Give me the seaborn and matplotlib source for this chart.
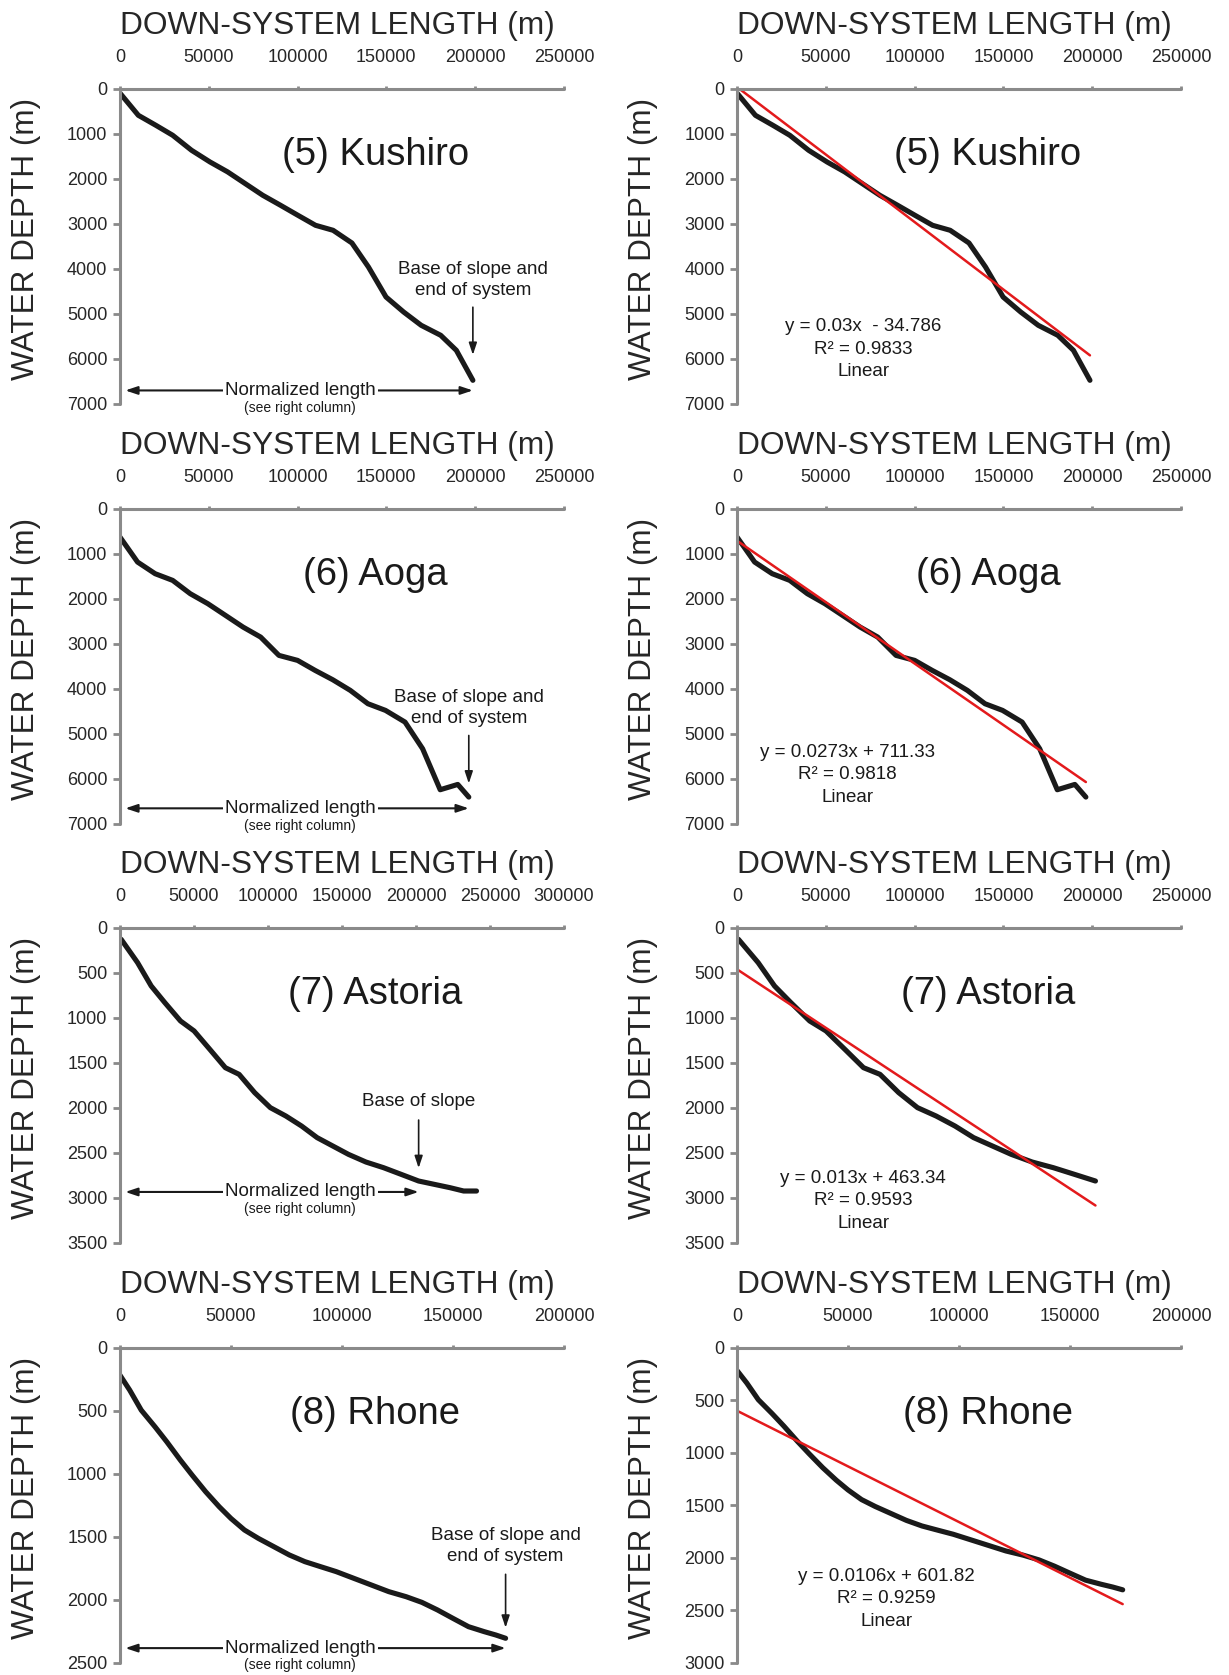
import matplotlib
matplotlib.use('Agg')
import matplotlib.pyplot as plt
import numpy as np
import pandas as pd
import seaborn as sns

sns.set_theme(style='white')
plt.rcParams['font.family'] = ['Liberation Sans', 'DejaVu Sans']

kushiro_x = [0, 10350, 20200, 29700, 40300, 50700, 60600, 70500, 80400, 90300,
             100200, 110100, 120000, 130600, 139900, 149800, 159700, 169600,
             180600, 189400, 198700]
kushiro_y = [100, 593, 815, 1037, 1370, 1630, 1850, 2110, 2370, 2590,
             2815, 3037, 3148, 3430, 3963, 4630, 4963, 5259,
             5481, 5815, 6481]

aoga_x = [0, 9900, 19800, 29700, 39600, 49500, 59400, 69300, 79200, 89500,
          100000, 109900, 119800, 129700, 139600, 149500, 160500, 170400,
          180300, 190200, 196400]
aoga_y = [630, 1185, 1444, 1593, 1889, 2111, 2370, 2630, 2852, 3259,
          3370, 3593, 3800, 4037, 4333, 4481, 4741, 5333,
          6244, 6126, 6407]

astoria_x = [800, 11900, 21100, 30300, 40900, 50100, 60700, 71200, 80500, 91000,
             101600, 112100, 122700, 133200, 143800, 154400, 166200, 178100,
             190000, 201800, 212400, 223000, 232200, 240900]
astoria_y = [130, 389, 648, 833, 1037, 1148, 1352, 1556, 1630, 1833,
             2000, 2093, 2204, 2333, 2426, 2519, 2604, 2667,
             2741, 2815, 2852, 2889, 2926, 2926]

rhone_x = [0, 4400, 9600, 15800, 21100, 27200, 32500, 38600, 44700, 50000,
           56100, 62300, 69300, 76300, 83300, 90400, 97400, 105300, 113200,
           121100, 128900, 136000, 143000, 150000, 157000, 164000, 169300, 173700]
rhone_y = [219, 338, 497, 629, 748, 893, 1012, 1144, 1263, 1356,
           1448, 1514, 1580, 1646, 1699, 1739, 1778, 1831, 1884,
           1937, 1977, 2022, 2082, 2149, 2215, 2254, 2281, 2307]

names = ['(5) Kushiro', '(6) Aoga', '(7) Astoria', '(8) Rhone']
profiles_x = [kushiro_x, aoga_x, astoria_x, rhone_x]
profiles_y = [kushiro_y, aoga_y, astoria_y, rhone_y]

# base of slope (normalized length end), m
base_of_slope = [198700, 196400, 201800, 173700]
base_labels = ['Base of slope and\nend of system', 'Base of slope and\nend of system',
               'Base of slope', 'Base of slope and\nend of system']

# linear fits shown in the right column
fit_slope = [0.03, 0.0273, 0.013, 0.0106]
fit_intercept = [-34.786, 711.33, 463.34, 601.82]
fit_eq = ['y = 0.03x  - 34.786', 'y = 0.0273x + 711.33',
          'y = 0.013x + 463.34', 'y = 0.0106x + 601.82']
fit_r2 = ['R² = 0.9833', 'R² = 0.9818', 'R² = 0.9593', 'R² = 0.9259']

# axis ranges
xmax_left = [250000, 250000, 300000, 200000]
xmax_right = [250000, 250000, 250000, 200000]
ymax_left = [7000, 7000, 3500, 2500]
ymax_right = [7000, 7000, 3500, 3000]
ystep = [1000, 1000, 500, 500]

# layout (fractions from top of each axes)
base_text_y = [0.607, 0.633, 0.551, 0.629]
arrow_top = [0.685, 0.711, 0.602, 0.711]
arrow_bot = [0.854, 0.881, 0.772, 0.898]
norm_y = [0.958, 0.951, 0.839, 0.954]
eq_x = [0.284, 0.248, 0.284, 0.337]
eq_y = [0.827, 0.844, 0.867, 0.797]

GRAY = '#8a8a8a'
RED = '#e31a1c'

fig = plt.figure(figsize=(12.29, 16.75), dpi=100)
bottoms = [0.759, 0.5082, 0.2581, 0.0074]


def style_axes(ax, xmax, ymax, step):
    ax.set_xlim(0, xmax)
    ax.set_ylim(ymax, 0)
    ax.set_xticks(np.arange(0, xmax + 1, 50000))
    ax.set_yticks(np.arange(0, ymax + 1, step))
    ax.xaxis.tick_top()
    for s in ['right', 'bottom']:
        ax.spines[s].set_visible(False)
    for s in ['left', 'top']:
        ax.spines[s].set_color(GRAY)
        ax.spines[s].set_linewidth(2.2)
        ax.spines[s].set_capstyle('round')
    ax.tick_params(axis='x', direction='out', length=2.5, width=2, color=GRAY,
                   labelsize=13, pad=14, top=True, bottom=False)
    ax.tick_params(axis='y', direction='out', length=5, width=2, color=GRAY,
                   labelsize=13, pad=4, left=True)
    ax.set_xlabel('DOWN-SYSTEM LENGTH (m)', fontsize=22.8)
    ax.xaxis.set_label_position('top')
    ax.xaxis.set_label_coords(0.49, 1.174)
    ax.set_ylabel('WATER DEPTH (m)', fontsize=22.7)
    ax.yaxis.set_label_coords(-0.178, 0.524)
    ax.grid(False)


for i in range(4):
    x = np.array(profiles_x[i])
    y = np.array(profiles_y[i])
    base = base_of_slope[i]

    # left column: full profile with annotations
    ax = fig.add_axes([0.0976, bottoms[i], 0.3613, 0.1881])
    df = pd.DataFrame({'length': x, 'depth': y})
    sns.lineplot(data=df, x='length', y='depth', ax=ax, color='#1a1a1a',
                 linewidth=3.7, sort=False, estimator=None)
    style_axes(ax, xmax_left[i], ymax_left[i], ystep[i])
    ax.text(0.575, 0.79, names[i], transform=ax.transAxes, fontsize=27.5,
            ha='center', va='center', color='#1a1a1a')
    tr = ax.get_xaxis_transform()
    ax.text(base, 1 - base_text_y[i], base_labels[i], transform=tr,
            fontsize=13.5, ha='center', va='center', linespacing=1.3,
            color='#1a1a1a')
    ax.annotate('', xy=(base, 1 - arrow_bot[i]), xytext=(base, 1 - arrow_top[i]),
                xycoords=tr, textcoords=tr,
                arrowprops=dict(arrowstyle='-|>,head_length=0.6,head_width=0.2',
                                color='#1a1a1a', lw=1.2))
    ax.annotate('', xy=(base, 1 - norm_y[i]), xytext=(0.012 * xmax_left[i], 1 - norm_y[i]),
                xycoords=tr, textcoords=tr,
                arrowprops=dict(arrowstyle='<|-|>,head_length=0.6,head_width=0.2',
                                color='#1a1a1a', lw=1.5, shrinkA=0, shrinkB=0),
                annotation_clip=False)
    ax.text(0.406, 1 - norm_y[i], 'Normalized length', transform=ax.transAxes,
            fontsize=13.5, ha='center', va='center', color='#1a1a1a',
            bbox=dict(facecolor='white', edgecolor='none', pad=1.5), clip_on=False)
    ax.text(0.406, 1 - norm_y[i] - 0.055, '(see right column)', transform=ax.transAxes,
            fontsize=10, ha='center', va='center', color='#1a1a1a', clip_on=False)

    # right column: profile to base of slope with linear fit
    ax = fig.add_axes([0.5997, bottoms[i], 0.3613, 0.1881])
    keep = x <= base + 1
    dfr = pd.DataFrame({'length': x[keep], 'depth': y[keep]})
    sns.lineplot(data=dfr, x='length', y='depth', ax=ax, color='#1a1a1a',
                 linewidth=3.7, sort=False, estimator=None)
    fx = np.array([0, x[keep].max()])
    fit = pd.DataFrame({'length': fx, 'depth': fit_slope[i] * fx + fit_intercept[i]})
    sns.lineplot(data=fit, x='length', y='depth', ax=ax, color=RED, linewidth=1.8)
    style_axes(ax, xmax_right[i], ymax_right[i], ystep[i])
    ax.text(0.565, 0.79, names[i], transform=ax.transAxes, fontsize=27.5,
            ha='center', va='center', color='#1a1a1a')
    ax.text(eq_x[i], 1 - eq_y[i], fit_eq[i] + '\n' + fit_r2[i] + '\nLinear',
            transform=ax.transAxes, fontsize=13.5, ha='center', va='center',
            linespacing=1.42, color='#1a1a1a')

fig.savefig('out.png', dpi=100)
